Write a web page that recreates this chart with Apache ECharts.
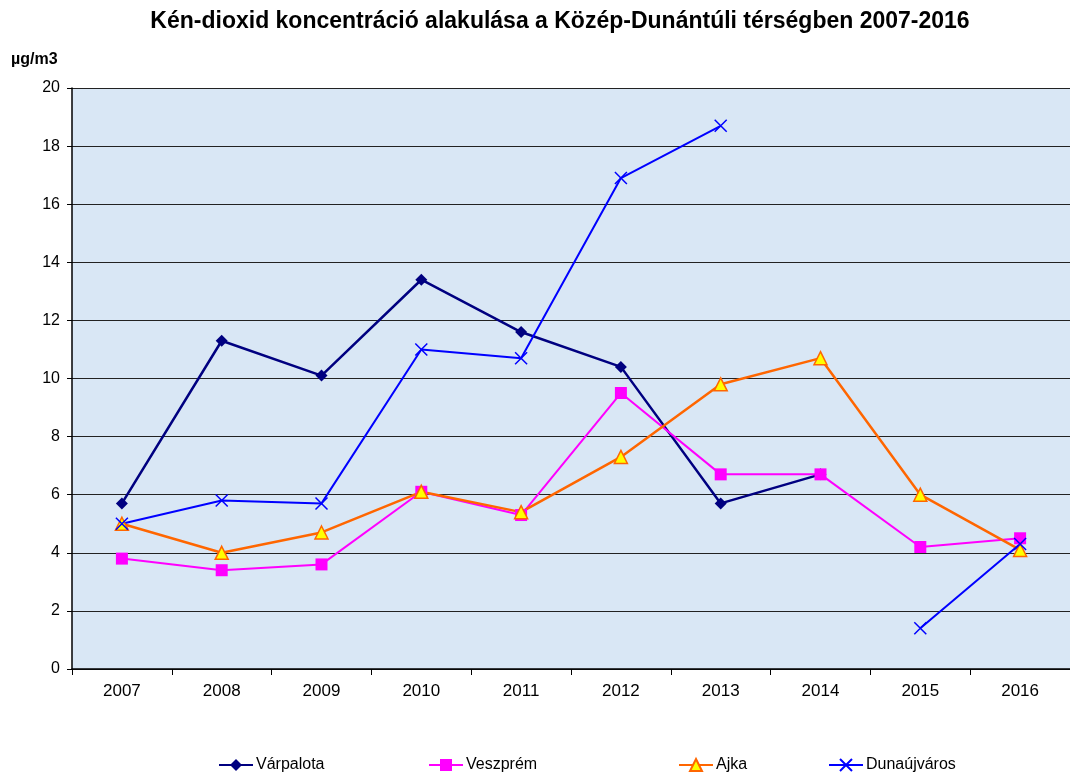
<!DOCTYPE html>
<html>
<head>
<meta charset="utf-8">
<script src="https://cdn.jsdelivr.net/npm/echarts@6/dist/echarts.min.js"></script>
<style>
  html, body { margin: 0; padding: 0; background: #fff; }
  #chart { width: 1070px; height: 774px; }
</style>
</head>
<body>
<div id="chart"></div>
<script>
const years = ['2007', '2008', '2009', '2010', '2011', '2012', '2013', '2014', '2015', '2016'];
const varpalota = [5.7, 11.3, 10.1, 13.4, 11.6, 10.4, 5.7, 6.7, null, null];
const veszprem = [3.8, 3.4, 3.6, 6.1, 5.3, 9.5, 6.7, 6.7, 4.2, 4.5];
const ajka = [5.0, 4.0, 4.7, 6.1, 5.4, 7.3, 9.8, 10.7, 6.0, 4.1];
const dunaujvaros = [5.0, 5.8, 5.7, 11.0, 10.7, 16.9, 18.7, null, 1.4, 4.3];
const seriesNames = ['Várpalota', 'Veszprém', 'Ajka', 'Dunaújváros'];

const font = 'Arial, "Liberation Sans", sans-serif';
const crossPath = 'path://M0,0L10,10M10,0L0,10';

const chart = echarts.init(document.getElementById('chart'));

// one legend per item, Excel spaces them unevenly
const legendLeft = [218, 428, 678, 828];
const legends = seriesNames.map((name, i) => ({
  data: [name],
  left: legendLeft[i],
  top: 757,
  itemWidth: 34,
  itemHeight: 15,
  itemGap: 0,
  padding: 0,
  textStyle: { fontSize: 16, color: '#000', fontFamily: font, padding: [0, 0, 0, -2] }
}));

chart.setOption({
  backgroundColor: '#ffffff',
  textStyle: { fontFamily: font },
  graphic: [
    {
      type: 'text',
      x: 560,
      y: 22,
      style: {
        text: 'Kén-dioxid koncentráció alakulása a Közép-Dunántúli térségben 2007-2016',
        font: 'bold 23px ' + font,
        fill: '#000',
        align: 'center',
        verticalAlign: 'middle'
      }
    },
    {
      type: 'text',
      left: 11,
      top: 52,
      style: { text: 'µg/m3', font: 'bold 16px ' + font, fill: '#000' }
    }
  ],
  legend: legends,
  grid: {
    left: 72,
    right: 0,
    top: 88,
    bottom: 105,
    show: true,
    backgroundColor: '#d9e7f5',
    borderWidth: 0
  },
  xAxis: {
    type: 'category',
    data: years,
    boundaryGap: true,
    axisLine: { lineStyle: { color: '#000', width: 1.5 } },
    axisTick: { show: true, length: 6, lineStyle: { color: '#000' } },
    axisLabel: { fontSize: 17, color: '#000', margin: 14 },
    splitLine: { show: false }
  },
  yAxis: {
    type: 'value',
    min: 0,
    max: 20,
    interval: 2,
    axisLine: { show: true, lineStyle: { color: '#000', width: 1.5 } },
    axisTick: { show: true, length: 5, lineStyle: { color: '#000' } },
    axisLabel: { fontSize: 16, color: '#000', margin: 12 },
    splitLine: { show: true, lineStyle: { color: '#222', width: 1.2 } }
  },
  series: [
    {
      name: 'Várpalota',
      type: 'line',
      data: varpalota,
      symbol: 'diamond',
      symbolSize: 12,
      lineStyle: { color: '#000080', width: 2.5 },
      itemStyle: { color: '#000080' }
    },
    {
      name: 'Veszprém',
      type: 'line',
      data: veszprem,
      symbol: 'rect',
      symbolSize: 12,
      lineStyle: { color: '#ff00ff', width: 2 },
      itemStyle: { color: '#ff00ff' }
    },
    {
      name: 'Ajka',
      type: 'line',
      data: ajka,
      symbol: 'triangle',
      symbolSize: 13,
      lineStyle: { color: '#ff6600', width: 2.5 },
      itemStyle: { color: '#ffff00', borderColor: '#ff6600', borderWidth: 1.5 }
    },
    {
      name: 'Dunaújváros',
      type: 'line',
      data: dunaujvaros,
      symbol: crossPath,
      symbolSize: 12,
      lineStyle: { color: '#0000ff', width: 2 },
      itemStyle: { color: 'rgba(0,0,0,0)', borderColor: '#0000ff', borderWidth: 1.5 }
    }
  ]
});
</script>
</body>
</html>
